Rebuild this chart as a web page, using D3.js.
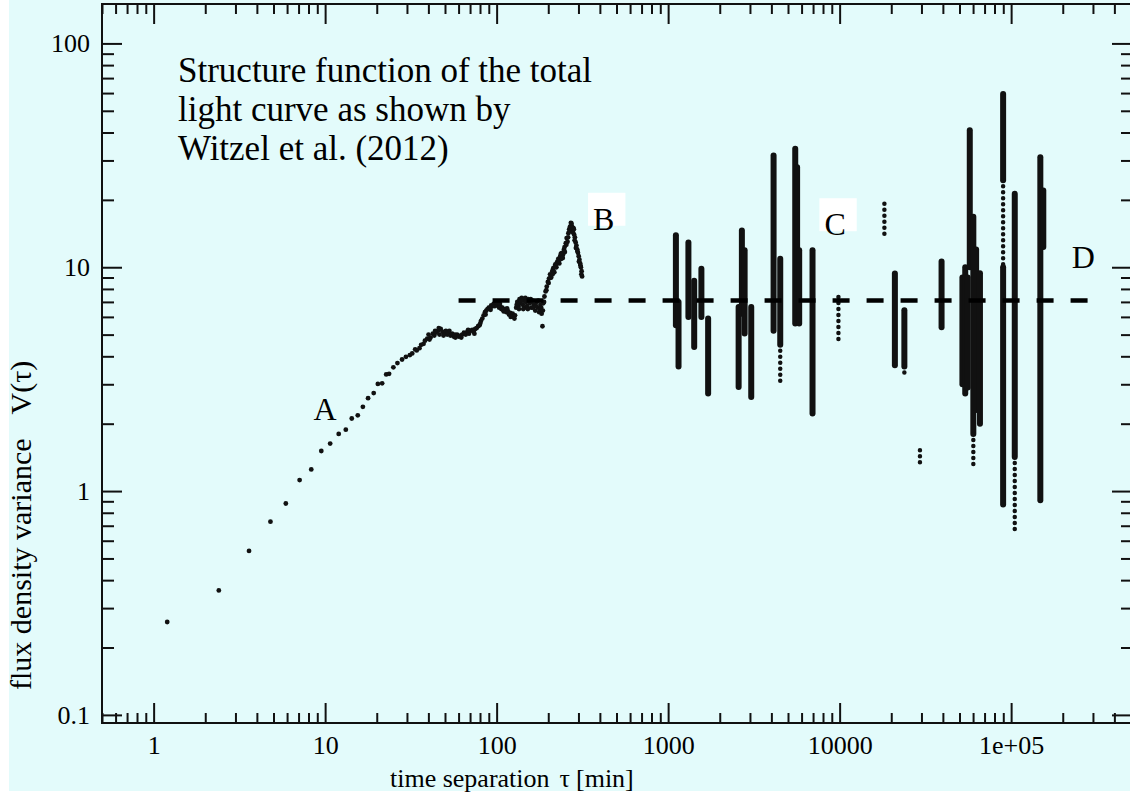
<!DOCTYPE html>
<html>
<head>
<meta charset="utf-8">
<script src="https://cdn.jsdelivr.net/npm/d3@7"></script>
<style>
  body { margin: 0; background: #ffffff; }
</style>
</head>
<body>
<div id="chart"></div>
<script>
////////////////////////////////////////////////////////////////////////
// Data: tau [min] and V(tau)

// rising part (A) and the wiggly plateau up to the bump at B
let curvePoints = [
  [1.2, 0.26], [2.4, 0.36], [3.6, 0.54], [4.8, 0.73], [5.9, 0.88], [7.1, 1.12],
  [8.3, 1.25], [9.5, 1.51], [10.7, 1.63], [12.0, 1.80], [13.2, 1.88], [14.3, 2.11],
  [15.5, 2.18], [16.6, 2.38], [17.8, 2.60], [19.2, 2.74], [20.3, 3.01], [21.5, 3.03],
  [22.7, 3.32], [23.6, 3.34], [25.0, 3.57], [26.4, 3.73], [28.1, 3.87], [29.6, 3.98],
  [31.2, 4.05], [32.2, 4.12], [33.5, 4.3], [34.2, 4.25], [35.5, 4.35], [36.3, 4.5],
  [37.5, 4.55], [38.2, 4.7], [39.4, 4.8], [40.1, 5.0], [41.2, 4.85], [42.5, 5.05],
  [43.3, 4.95], [44.2, 5.1], [45.5, 5.2], [46.4, 5.0], [47.2, 5.3], [48.3, 5.15],
  [49.5, 5.05], [50.6, 5.2], [51.5, 5.0], [52.5, 5.1], [53.8, 4.95], [55.0, 5.05],
  [56.2, 4.9], [57.5, 4.85], [58.8, 5.0], [60.0, 4.9], [61.5, 4.95], [63.0, 5.0],
  [64.5, 5.1], [66.0, 5.0], [67.5, 5.15], [69.0, 5.05], [70.5, 5.2], [72.0, 5.25],
  [73.5, 5.15], [75.0, 5.3], [76.5, 5.35], [78.0, 5.45], [79.5, 5.5], [81.0, 5.75],
  [82.5, 5.9], [84.0, 6.1], [85.5, 6.3], [87.0, 6.4], [88.5, 6.5], [90.0, 6.6],
  [91.5, 6.55], [93.0, 6.75], [94.5, 6.7], [96.0, 6.85], [97.5, 6.7], [99.0, 6.9],
  [100.5, 6.75], [102, 6.8], [103.5, 6.6], [105, 6.7], [106.5, 6.5], [108, 6.6],
  [110, 6.35], [112, 6.5], [114, 6.3], [116, 6.4], [118, 6.15], [120, 6.25],
  [122, 6.05], [124, 6.2], [126, 6.0], [128, 6.1], [130, 6.6], [132, 7.0],
  [134, 6.7], [136, 7.2], [138, 6.9], [140, 7.3], [142, 6.8], [144, 7.1],
  [146, 6.6], [148, 7.0], [150, 6.7], [153, 7.2], [156, 6.9], [159, 6.6],
  [162, 7.1], [165, 6.8], [168, 6.4], [171, 7.0], [174, 6.6], [177, 6.3],
  [180, 6.8], [183, 6.2], [185, 5.45], [187, 6.9], [190, 7.4], [193, 7.8],
  [196, 8.2], [199, 8.6], [202, 8.9], [205, 9.3], [208, 9.0], [211, 9.6],
  [214, 9.9], [217, 9.5], [220, 10.3], [223, 10.0], [226, 10.6], [229, 10.9],
  [232, 10.4], [235, 11.2], [238, 10.9], [241, 11.6], [244, 11.4], [247, 12.0],
  [250, 11.7], [253, 12.8], [256, 13.5], [259, 13.0], [262, 14.2], [265, 14.8],
  [268, 15.2], [271, 15.8], [274, 15.3], [277, 14.6], [280, 15.0], [283, 14.0],
  [286, 13.6], [289, 12.9], [292, 12.5], [295, 12.0], [298, 11.6], [301, 11.2],
  [304, 10.8], [307, 10.4], [310, 10.0], [313, 9.6], [315, 9.1],
  // second pass over the thick band, a little above and below the first
  [40.6, 4.75], [43.8, 5.2], [46.0, 5.35], [49.0, 4.95], [53.0, 5.2], [57.0, 5.0],
  [62.2, 4.85], [68.2, 5.25], [74.2, 5.05], [80.2, 5.6], [86.2, 6.15], [92.2, 6.45],
  [98.2, 7.0], [104.2, 6.9], [109, 6.45], [115, 6.55], [121, 6.0], [127, 5.9],
  [131, 6.8], [135, 6.5], [139, 7.1], [143, 6.5], [147, 7.3], [152, 6.5],
  [158, 7.2], [163, 6.6], [170, 6.7], [175, 7.1], [179, 6.5], [182, 6.6],
  [186, 6.4], [189, 7.0], [195, 7.9], [201, 8.5], [206, 9.0], [212, 9.3],
  [218, 10.0], [224, 10.4], [230, 10.6], [237, 11.5], [243, 11.0], [249, 12.3],
  [255, 12.6], [261, 13.6], [267, 14.5], [270, 15.0], [273, 15.7], [276, 15.0],
  [279, 14.3], [282, 14.8], [285, 13.2], [290, 12.2], [296, 11.8], [302, 10.6],
  [308, 10.2], [312, 9.3]
];

// long-lag part: every column of overlapping dots as [tau, V top, V bottom]
let denseColumns = [
  [1110, 13.9, 5.5], [1150, 7.0, 3.6], [1313, 12.9, 6.0], [1419, 8.7, 4.4],
  [1563, 9.85, 6.0], [1711, 5.9, 2.73],
  [2577, 6.65, 2.92], [2692, 14.6, 6.2], [2793, 11.9, 5.06], [3052, 6.65, 2.63],
  [4120, 31.6, 5.2], [4505, 10.9, 4.5], [5510, 33.8, 5.6], [5650, 28, 8.0],
  [5810, 11.9, 5.6], [6950, 11.9, 2.22],
  [21000, 9.37, 3.65], [23850, 6.43, 3.6], [39300, 10.6, 5.4],
  [52000, 9.0, 3.0], [54000, 10.0, 2.73], [55800, 9.0, 2.9], [57400, 40.9, 10.0],
  [60200, 16.8, 1.8], [62500, 12.0, 2.3], [65800, 9.4, 2.0],
  [89800, 59.5, 24.5], [89800, 10.0, 0.87], [105000, 21.3, 1.42],
  [148000, 31, 0.91], [154000, 22, 12.3]
];

// columns where the dots stand apart
let sparseColumns = [
  [4505, 4.5, 3.07], [9840, 7.37, 4.72], [18240, 19.2, 13.6], [23850, 3.6, 3.24],
  [29400, 1.52, 1.28], [60200, 1.8, 1.28], [89800, 24.5, 10.0], [105000, 1.42, 0.67]
];

// horizontal dashed level
let plateauLevel = 7.1;
let plateauRange = [60, 3.0e5];

let xMajorTicks = [1, 10, 100, 1000, 10000, 100000];
let xTickLabels = ["1", "10", "100", "1000", "10000", "1e+05"];
let yMajorTicks = [0.1, 1, 10, 100];
let yTickLabels = ["0.1", "1", "10", "100"];

let titleLines = ["Structure function of the total", "light curve as shown by", "Witzel et al. (2012)"];
let regionLabels = ["A", "B", "C", "D"];
let regionAnchors = [[8.55, 2.08], [365, 14.7], [8150, 13.9], [226000, 9.93]];
let boxedLabels = ["B", "C"];

////////////////////////////////////////////////////////////////////////
// Layout and scales

let width = 1130, height = 794;
let plot = { left: 102, right: 1131, top: 4, bottom: 723 };
let serif = "'Liberation Serif', 'Times New Roman', serif";

let xScale = d3.scaleLog().domain([0.5, 5e5]).range([plot.left, plot.right]);
let yScale = d3.scaleLog().domain([0.092, 150]).range([plot.bottom, plot.top]);

let svg = d3.select("#chart").append("svg")
  .attr("width", width)
  .attr("height", height)
  .attr("font-family", serif);

svg.append("rect")
  .attr("x", 9).attr("y", 0)
  .attr("width", width - 9).attr("height", 791)
  .attr("fill", "#e3fbfb");

////////////////////////////////////////////////////////////////////////
// Axes: major ticks with labels, minor ticks without, mirrored on all sides

let xMinor = xScale.ticks().filter(d => xMajorTicks.indexOf(d) < 0);
let yMinor = yScale.ticks().filter(d => yMajorTicks.indexOf(d) < 0);

function styleAxis(g) {
  g.select(".domain").remove();
  g.selectAll("line").attr("stroke", "#111").attr("stroke-width", 2);
  g.attr("font-family", serif).attr("font-size", 26);
  g.selectAll("text").attr("fill", "#000");
}

svg.append("g").attr("transform", "translate(0," + plot.bottom + ")")
  .call(d3.axisBottom(xScale).tickValues(xMajorTicks).tickSize(-20).tickPadding(13)
    .tickFormat((d, i) => xTickLabels[i]))
  .call(styleAxis);
svg.append("g").attr("transform", "translate(0," + plot.bottom + ")")
  .call(d3.axisBottom(xScale).tickValues(xMinor).tickSize(-10).tickFormat(""))
  .call(styleAxis);
svg.append("g").attr("transform", "translate(0," + plot.top + ")")
  .call(d3.axisTop(xScale).tickValues(xMajorTicks).tickSize(-20).tickFormat(""))
  .call(styleAxis);
svg.append("g").attr("transform", "translate(0," + plot.top + ")")
  .call(d3.axisTop(xScale).tickValues(xMinor).tickSize(-10).tickFormat(""))
  .call(styleAxis);

svg.append("g").attr("transform", "translate(" + plot.left + ",0)")
  .call(d3.axisLeft(yScale).tickValues(yMajorTicks).tickSize(-20).tickPadding(12)
    .tickFormat((d, i) => yTickLabels[i]))
  .call(styleAxis);
svg.append("g").attr("transform", "translate(" + plot.left + ",0)")
  .call(d3.axisLeft(yScale).tickValues(yMinor).tickSize(-12).tickFormat(""))
  .call(styleAxis);
svg.append("g").attr("transform", "translate(" + plot.right + ",0)")
  .call(d3.axisRight(yScale).tickValues(yMajorTicks).tickSize(-19).tickFormat(""))
  .call(styleAxis);
svg.append("g").attr("transform", "translate(" + plot.right + ",0)")
  .call(d3.axisRight(yScale).tickValues(yMinor).tickSize(-10).tickFormat(""))
  .call(styleAxis);

svg.append("rect")
  .attr("x", plot.left).attr("y", plot.top)
  .attr("width", plot.right - plot.left).attr("height", plot.bottom - plot.top)
  .attr("fill", "none").attr("stroke", "#111").attr("stroke-width", 2);

////////////////////////////////////////////////////////////////////////
// Data marks

svg.append("g").selectAll("line")
  .data(denseColumns)
  .enter().append("line")
  .attr("x1", d => xScale(d[0])).attr("x2", d => xScale(d[0]))
  .attr("y1", d => yScale(d[1])).attr("y2", d => yScale(d[2]))
  .attr("stroke", "#111").attr("stroke-width", 6).attr("stroke-linecap", "round");

// dotted: zero-length dashes with round caps give separate dots
svg.append("g").selectAll("line")
  .data(sparseColumns)
  .enter().append("line")
  .attr("x1", d => xScale(d[0])).attr("x2", d => xScale(d[0]))
  .attr("y1", d => yScale(d[1])).attr("y2", d => yScale(d[2]))
  .attr("stroke", "#111").attr("stroke-width", 4.5).attr("stroke-linecap", "round")
  .attr("stroke-dasharray", "0 6");

svg.append("g").selectAll("circle")
  .data(curvePoints)
  .enter().append("circle")
  .attr("cx", d => xScale(d[0]))
  .attr("cy", d => yScale(d[1]))
  .attr("r", 2.4)
  .attr("fill", "#111");

svg.append("line")
  .attr("x1", xScale(plateauRange[0])).attr("x2", xScale(plateauRange[1]))
  .attr("y1", yScale(plateauLevel)).attr("y2", yScale(plateauLevel))
  .attr("stroke", "#000").attr("stroke-width", 4.5)
  .attr("stroke-dasharray", "17 17");

////////////////////////////////////////////////////////////////////////
// Text

let title = svg.append("text").attr("font-size", 35).attr("fill", "#000");
title.selectAll("tspan")
  .data(titleLines)
  .enter().append("tspan")
  .attr("x", 178)
  .attr("y", (d, i) => 82 + i * 39)
  .text(d => d);

let labelGroup = svg.append("g");
regionLabels.forEach(function(name, i) {
  let t = labelGroup.append("text")
    .attr("x", xScale(regionAnchors[i][0]))
    .attr("y", yScale(regionAnchors[i][1]))
    .attr("font-size", 32)
    .attr("fill", "#000")
    .text(name);
  if (boxedLabels.indexOf(name) >= 0) {
    let b = t.node().getBBox();
    labelGroup.insert("rect", "text")
      .attr("x", b.x - 5).attr("y", b.y - 8)
      .attr("width", b.width + 16).attr("height", 33)
      .attr("fill", "#ffffff");
  }
});

svg.append("text")
  .attr("x", 390).attr("y", 787)
  .attr("font-size", 26)
  .attr("fill", "#000")
  .call(t => t.append("tspan").text("time separation"))
  .call(t => t.append("tspan").attr("dx", 10).text("τ"))
  .call(t => t.append("tspan").attr("dx", 6).text("[min]"));

svg.append("text")
  .attr("transform", "translate(31,690) rotate(-90)")
  .attr("font-size", 30)
  .attr("fill", "#000")
  .call(t => t.append("tspan").text("flux density variance"))
  .call(t => t.append("tspan").attr("dx", 24).text("V(τ)"));
</script>
</body>
</html>
